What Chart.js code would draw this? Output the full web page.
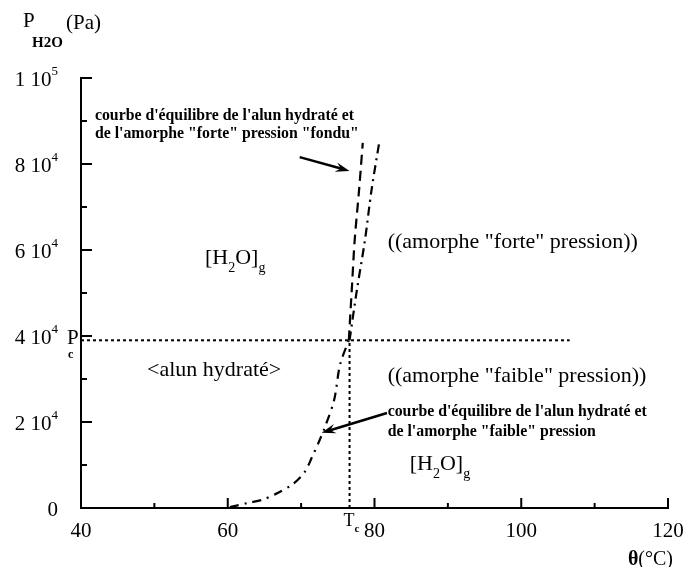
<!DOCTYPE html>
<html>
<head>
<meta charset="utf-8">
<script src="https://cdn.jsdelivr.net/npm/chart.js@4"></script>
<style>
  html, body { margin: 0; padding: 0; background: #fff; }
  #wrap { width: 690px; height: 567px; }
</style>
</head>
<body>
<div id="wrap"><canvas id="phaseCanvas" width="690" height="567"></canvas></div>
<script>
// Data (temperature in °C, pressure in Pa)
const lowTemp  = [60.3, 62.8, 64.7, 66.8, 68.9, 70.5, 71.5, 72.4, 73.2, 74.5, 75.3, 76.5];
const lowPress = [200, 1200, 1900, 3500, 5600, 8400, 11900, 15300, 18600, 25100, 33300, 39000];

const highLeftTemp  = [76.5, 76.9, 77.3, 77.9, 78.4];
const highLeftPress = [39000, 50700, 62300, 74000, 84900];

const highRightTemp  = [76.6, 77.6, 78.7, 79.6, 80.7];
const highRightPress = [39000, 50700, 62300, 74000, 85600];

const Tc = 76.6;
const Pc = 39000;
const pcLineEnd = 106.6;

const xMajor = [40, 60, 80, 100, 120];
const xMinor = [50, 70, 90, 110];
const xLabels = ['40', '60', '80', '100', '120'];
const yMajor = [0, 20000, 40000, 60000, 80000, 100000];
const yMinor = [10000, 30000, 50000, 70000, 90000];
const yLabels = [['0', ''], ['2 10', '4'], ['4 10', '4'], ['6 10', '4'], ['8 10', '4'], ['1 10', '5']];

const SERIF = '"Liberation Serif", "DejaVu Serif", serif';

function pts(xs, ys) {
    return xs.map((x, i) => ({ x: x, y: ys[i] }));
}

// draws text made of pieces, some of them sub/superscript
function drawRich(ctx, parts, x, y, size, align) {
    let total = 0;
    parts.forEach(p => {
        ctx.font = (p.bold ? 'bold ' : '') + (p.sub || p.sup ? Math.round(size * 0.62) : size) + 'px ' + SERIF;
        p.w = ctx.measureText(p.t).width;
        total += p.w;
    });
    let cx = align === 'right' ? x - total : (align === 'center' ? x - total / 2 : x);
    ctx.textBaseline = 'middle';
    ctx.textAlign = 'left';
    parts.forEach(p => {
        ctx.font = (p.bold ? 'bold ' : '') + (p.sub || p.sup ? Math.round(size * 0.62) : size) + 'px ' + SERIF;
        let dy = p.sub ? size * 0.45 : (p.sup ? -size * 0.38 : 0);
        ctx.fillText(p.t, cx, y + dy);
        cx += p.w;
    });
}

function arrow(ctx, x1, y1, x2, y2) {
    const a = Math.atan2(y2 - y1, x2 - x1);
    ctx.beginPath();
    ctx.moveTo(x1, y1);
    ctx.lineTo(x2 - 8 * Math.cos(a), y2 - 8 * Math.sin(a));
    ctx.stroke();
    ctx.beginPath();
    ctx.moveTo(x2, y2);
    ctx.lineTo(x2 - 15 * Math.cos(a - 0.33), y2 - 15 * Math.sin(a - 0.33));
    ctx.lineTo(x2 - 9 * Math.cos(a), y2 - 9 * Math.sin(a));
    ctx.lineTo(x2 - 15 * Math.cos(a + 0.33), y2 - 15 * Math.sin(a + 0.33));
    ctx.closePath();
    ctx.fill();
}

// Text notes, anchored in data coordinates
const notes = [
    { x: 41.9, y: 91200, size: 15.8, bold: true, parts: [{ t: "courbe d'équilibre de l'alun hydraté et" }] },
    { x: 41.9, y: 87000, size: 15.8, bold: true, parts: [{ t: "de l'amorphe \"forte\" pression \"fondu\"" }] },
    { x: 56.9, y: 58100, size: 22, parts: [{ t: '[H' }, { t: '2', sub: true }, { t: 'O]' }, { t: 'g', sub: true }] },
    { x: 81.8, y: 61900, size: 22, parts: [{ t: '((amorphe "forte" pression))' }] },
    { x: 49.0, y: 32100, size: 22, parts: [{ t: '<alun hydraté>' }] },
    { x: 81.8, y: 30700, size: 22, parts: [{ t: '((amorphe "faible" pression))' }] },
    { x: 81.8, y: 22300, size: 15.8, bold: true, parts: [{ t: "courbe d'équilibre de l'alun hydraté et" }] },
    { x: 81.8, y: 17700, size: 15.8, bold: true, parts: [{ t: "de l'amorphe \"faible\" pression" }] },
    { x: 84.8, y: 10200, size: 22, parts: [{ t: '[H' }, { t: '2', sub: true }, { t: 'O]' }, { t: 'g', sub: true }] }
];

const arrows = [
    { x1: 69.8, y1: 81600, x2: 76.6, y2: 78400 },
    { x1: 81.7, y1: 22100, x2: 72.8, y2: 17500 }
];

const decorPlugin = {
    id: 'decor',
    afterDraw(chart) {
        const ctx = chart.ctx;
        const xs = chart.scales.x;
        const ys = chart.scales.y;
        const left = xs.left, bottom = ys.bottom;
        ctx.save();
        ctx.strokeStyle = '#000';
        ctx.fillStyle = '#000';
        ctx.lineWidth = 2;
        ctx.setLineDash([]);

        // inward ticks
        ctx.beginPath();
        xMajor.slice(1).forEach(v => { const p = xs.getPixelForValue(v); ctx.moveTo(p, bottom); ctx.lineTo(p, bottom - 10); });
        xMinor.forEach(v => { const p = xs.getPixelForValue(v); ctx.moveTo(p, bottom); ctx.lineTo(p, bottom - 5); });
        yMajor.slice(1).forEach(v => { const p = ys.getPixelForValue(v); ctx.moveTo(left, p); ctx.lineTo(left + 11, p); });
        yMinor.forEach(v => { const p = ys.getPixelForValue(v); ctx.moveTo(left, p); ctx.lineTo(left + 6, p); });
        ctx.stroke();

        // tick labels
        yMajor.forEach((v, i) => {
            const p = ys.getPixelForValue(v);
            drawRich(ctx, [{ t: yLabels[i][0] }, { t: yLabels[i][1], sup: true }], 58, p + 2, 21, 'right');
        });
        xMajor.forEach((v, i) => {
            drawRich(ctx, [{ t: xLabels[i] }], xs.getPixelForValue(v), bottom + 23, 21, 'center');
        });

        // axis titles
        ctx.textBaseline = 'middle';
        ctx.textAlign = 'left';
        ctx.font = '21px ' + SERIF;
        ctx.fillText('P', 23, 21);
        ctx.fillText('(Pa)', 66, 23);
        ctx.font = 'bold 15px ' + SERIF;
        ctx.fillText('H2O', 32, 43);
        drawRich(ctx, [{ t: 'θ', bold: true }, { t: '(°C)' }], 673, 560, 20, 'right');

        // Pc and Tc labels
        const pcY = ys.getPixelForValue(Pc);
        ctx.font = '21px ' + SERIF;
        ctx.fillText('P', 67, pcY - 2);
        ctx.font = 'bold 12px ' + SERIF;
        ctx.fillText('c', 68, pcY + 15);
        drawRich(ctx, [{ t: 'T' }, { t: 'c', sub: true, bold: true }], xs.getPixelForValue(Tc) - 6, bottom + 13, 18, 'left');

        // notes
        notes.forEach(n => {
            drawRich(ctx, n.parts.map(p => Object.assign({ bold: n.bold }, p)),
                xs.getPixelForValue(n.x), ys.getPixelForValue(n.y), n.size, 'left');
        });

        // arrows
        ctx.lineWidth = 2.5;
        arrows.forEach(a => {
            arrow(ctx, xs.getPixelForValue(a.x1), ys.getPixelForValue(a.y1),
                xs.getPixelForValue(a.x2), ys.getPixelForValue(a.y2));
        });
        ctx.restore();
    }
};

const phaseContext = document.getElementById('phaseCanvas').getContext('2d');

new Chart(phaseContext, {
    type: 'scatter',
    data: {
        datasets: [
            {
                label: 'alun hydraté / amorphe faible pression',
                data: pts(lowTemp, lowPress),
                showLine: true,
                borderColor: '#000',
                borderWidth: 2.2,
                borderDash: [9, 6, 2, 6],
                tension: 0.3,
                pointRadius: 0
            },
            {
                label: 'forte pression (gauche)',
                data: pts(highLeftTemp, highLeftPress),
                showLine: true,
                borderColor: '#000',
                borderWidth: 2.2,
                borderDash: [10, 6],
                tension: 0.3,
                pointRadius: 0
            },
            {
                label: 'forte pression fondu (droite)',
                data: pts(highRightTemp, highRightPress),
                showLine: true,
                borderColor: '#000',
                borderWidth: 2.2,
                borderDash: [9, 5, 2, 5],
                tension: 0.3,
                pointRadius: 0
            },
            {
                label: 'Pc',
                data: [{ x: 40, y: Pc }, { x: pcLineEnd, y: Pc }],
                showLine: true,
                borderColor: '#000',
                borderWidth: 2,
                borderDash: [3, 3],
                pointRadius: 0
            },
            {
                label: 'Tc',
                data: [{ x: Tc, y: 0 }, { x: Tc, y: Pc }],
                showLine: true,
                borderColor: '#000',
                borderWidth: 2,
                borderDash: [3, 3],
                pointRadius: 0
            }
        ]
    },
    options: {
        responsive: false,
        animation: false,
        layout: {
            padding: { top: 78, right: 22, left: 0, bottom: 0 }
        },
        scales: {
            x: {
                type: 'linear',
                min: 40,
                max: 120,
                grid: { display: false },
                border: { display: true, color: '#000', width: 2 },
                ticks: { display: false },
                afterFit: scale => { scale.height = 59; }
            },
            y: {
                type: 'linear',
                min: 0,
                max: 100000,
                grid: { display: false },
                border: { display: true, color: '#000', width: 2 },
                ticks: { display: false },
                afterFit: scale => { scale.width = 81; }
            }
        },
        plugins: {
            legend: { display: false },
            tooltip: { enabled: false }
        }
    },
    plugins: [decorPlugin]
});
</script>
</body>
</html>
